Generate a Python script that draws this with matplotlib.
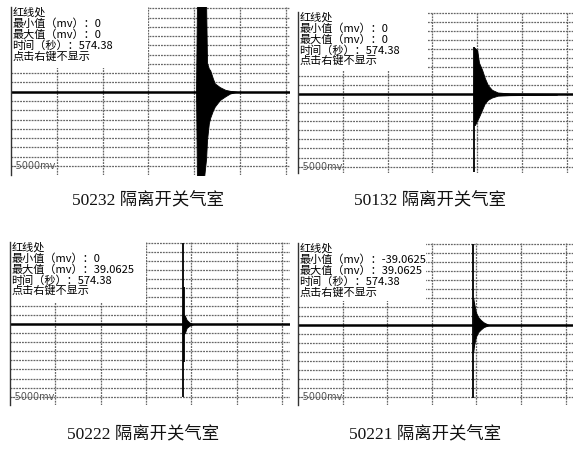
import matplotlib
matplotlib.use("Agg")
import matplotlib.pyplot as plt
from matplotlib.patches import Rectangle

plt.rcParams['font.family'] = ['Noto Sans CJK SC', 'DejaVu Sans']

# 面板标题与读数
captions = ["50232 隔离开关气室", "50132 隔离开关气室", "50222 隔离开关气室", "50221 隔离开关气室"]
min_vals = ["0", "0", "0", "-39.0625"]
max_vals = ["0", "0", "39.0625", "39.0625"]
time_s = "574.38"
scale_label = "-5000mv"

# 放电波形包络：时间（格），幅值（mV）
t_50232 = [4.04, 4.06, 4.21, 4.26, 4.28, 4.32, 4.35, 4.41, 4.45, 4.56, 4.68, 4.78, 4.93]
hi_50232 = [0, 5940, 5940, 5940, 1940, 1560, 1440, 875, 560, 310, 125, 60, 0]
lo_50232 = [0, -5940, -5940, -4500, -3250, -2125, -1750, -1250, -1000, -560, -310, -125, 0]

t_50132 = [3.92, 3.93, 3.95, 4.00, 4.04, 4.11, 4.17, 4.24, 4.33, 4.46, 4.73, 5.78]
hi_50132 = [0, 3250, 3190, 3060, 2190, 1690, 1125, 625, 310, 125, 60, 30]
lo_50132 = [0, -2125, -2125, -1810, -1560, -1060, -625, -375, -220, -95, -60, -30]

t_50222 = [3.81, 3.86, 3.90, 3.96, 4.04]
hi_50222 = [750, 600, 310, 125, 0]
lo_50222 = [-750, -600, -250, -100, 0]

t_50221 = [3.93, 3.95, 3.99, 4.04, 4.10, 4.16, 4.28]
hi_50221 = [1875, 1500, 875, 560, 345, 190, 0]
lo_50221 = [-1875, -1375, -810, -500, -310, -155, 0]

# 单点尖峰：时间（格），最小值、最大值（mV）
spk_t = [[], [3.93], [3.81, 3.85], [3.93]]
spk_lo = [[], [-5375], [-5000, -2600], [-5060]]
spk_hi = [[], [3250], [5625, 2600], [5625]]

envelopes = [(t_50232, hi_50232, lo_50232), (t_50132, hi_50132, lo_50132),
             (t_50222, hi_50222, lo_50222), (t_50221, hi_50221, lo_50221)]

W, H = 573, 450
DIV = 625  # mV / 格

# 面板位置（像素）：左、右、横向每格、顶线、中线、底端
boxes = [(11, 290, 45.8, 8.3, 91.7, 175),
         (298, 573, 44.8, 13.0, 94.3, 173),
         (10, 290, 45.3, 243.0, 324.3, 405),
         (298, 573, 44.6, 244.3, 325.0, 405)]
# 信息框右边与下边（格）
info_box = [(2.98, 2.6), (2.88, 2.7), (2.98, 2.5), (2.85, 2.7)]
cap_pos = [(148, 201), (430, 201), (143, 435), (425, 435)]

fig = plt.figure(figsize=(W / 100, H / 100), dpi=100)

grid_kw = dict(color='#666666', lw=0.9, ls=(0, (1.5, 0.8)), zorder=1)

for i in range(4):
    left, right, dx, top, centre, bottom = boxes[i]
    dy = (centre - top) / 9
    ax = fig.add_axes([left / W, 1 - bottom / H, (right - left) / W, (bottom - top + 1) / H])
    ax.set_xlim(0, (right - left) / dx)
    ax.set_ylim(-(bottom - centre) / dy * DIV, (centre - top + 1) / dy * DIV)
    ax.axis('off')

    for k in range(-8, 10):
        if k != 0:
            ax.axhline(k * DIV, **grid_kw)
    for k in range(1, 7):
        ax.axvline(k, **grid_kw)
    ax.axvline(0, color='#333333', lw=1.0, zorder=5, clip_on=False)

    bx, by = info_box[i]
    ax.add_patch(Rectangle((0.02, by * DIV), bx, 12 * DIV, fc='white', ec='none', zorder=2))

    # 基线与波形
    ax.axhline(0, color='black', lw=1.8, zorder=3)
    t, hi, lo = envelopes[i]
    ax.fill_between(t, lo, hi, color='black', lw=0.6, zorder=4)
    if spk_t[i]:
        ax.vlines(spk_t[i], spk_lo[i], spk_hi[i], color='black', lw=1.3, zorder=4)

    lines = ['红线处',
             f'最小值（mv）：{min_vals[i]}',
             f'最大值（mv）：{max_vals[i]}',
             f'时间（秒）：{time_s}',
             '点击右键不显示']
    for j, s in enumerate(lines):
        ax.annotate(s, xy=(0, 1), xycoords='axes fraction',
                    xytext=(1.0, -(5.5 + 10.9 * j) * 0.72), textcoords='offset points',
                    ha='left', va='center', fontsize=8, fontweight='medium',
                    color='black', zorder=6)

    ax.text(0.04, -8 * DIV, scale_label, ha='left', va='center', fontsize=7,
            color='#555555', family='DejaVu Sans', zorder=6)

    cx, cy = cap_pos[i]
    fig.text(cx / W, 1 - cy / H, captions[i], ha='center', va='center', fontsize=12.5,
             family=['Liberation Serif', 'Noto Sans CJK SC'], color='#111111')

fig.savefig('out.png', dpi=100, facecolor='white')
